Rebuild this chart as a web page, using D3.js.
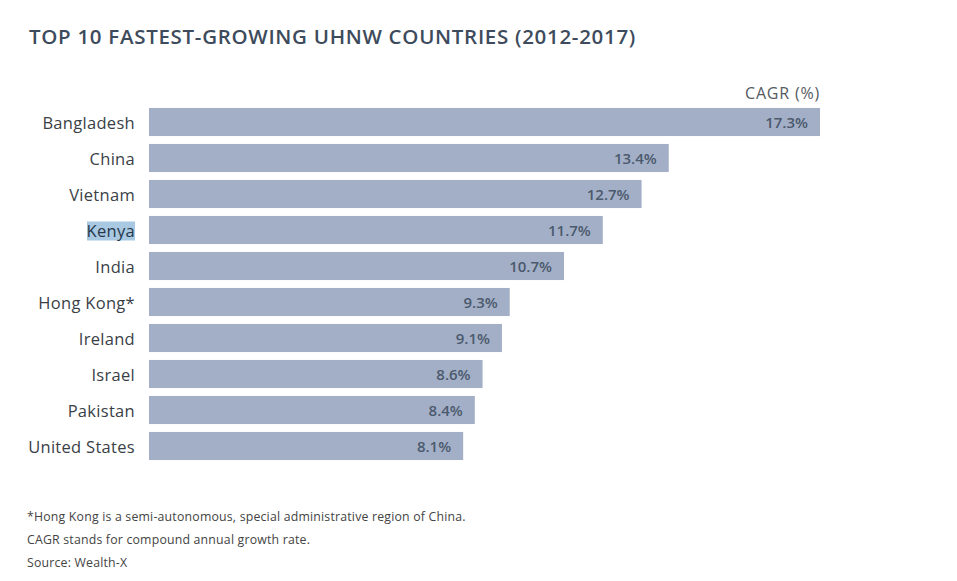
<!DOCTYPE html>
<html>
<head>
<meta charset="utf-8">
<script src="https://cdn.jsdelivr.net/npm/d3@7"></script>
<style>
  body { margin: 0; background: #fff; }
  svg text { font-family: "Open Sans", "Lato", sans-serif; }
</style>
</head>
<body>
<div id="chart"></div>
<script>
// Top 10 fastest-growing UHNW countries, CAGR 2012-2017

var countries = ["Bangladesh", "China", "Vietnam", "Kenya", "India",
                 "Hong Kong*", "Ireland", "Israel", "Pakistan", "United States"];
var cagr = [17.3, 13.4, 12.7, 11.7, 10.7, 9.3, 9.1, 8.6, 8.4, 8.1];
var highlighted = ["Kenya"];
var footnotes = [
    "*Hong Kong is a semi-autonomous, special administrative region of China.",
    "CAGR stands for compound annual growth rate.",
    "Source: Wealth-X"
];

var W = 957, H = 581;
var barColor = "#a3afc7";

var svg = d3.select("#chart").append("svg")
    .attr("width", W)
    .attr("height", H);

    // title
svg.append("text")
    .attr("x", 29).attr("y", 44)
    .attr("fill", "#3d4b5c")
    .attr("font-size", 20.5)
    .attr("font-weight", 600)
    .attr("letter-spacing", 0.7)
    .text("TOP 10 FASTEST-GROWING UHNW COUNTRIES (2012-2017)");

var x = d3.scaleLinear().domain([0, 17.3]).range([149, 820]);
var y = d3.scaleBand().domain(countries).range([104, 464]).paddingInner(0.22).paddingOuter(0.11);

var rows = countries.map(function(c, i) { return {name: c, value: cagr[i]}; });

    // bars
svg.selectAll("rect.bar").data(rows).enter().append("rect")
    .attr("class", "bar")
    .attr("x", x(0))
    .attr("y", function(d) { return y(d.name); })
    .attr("width", function(d) { return x(d.value) - x(0); })
    .attr("height", y.bandwidth())
    .attr("fill", barColor);

    // highlight behind selected label
var labelRight = 135;
svg.selectAll("rect.hl").data(rows.filter(function(d) { return highlighted.indexOf(d.name) >= 0; }))
    .enter().append("rect")
    .attr("class", "hl")
    .attr("x", 87)
    .attr("y", function(d) { return y(d.name) + y.bandwidth() / 2 - 8.5; })
    .attr("width", labelRight - 87)
    .attr("height", 19)
    .attr("fill", "#a9c8e2");

    // category labels
svg.selectAll("text.cat").data(rows).enter().append("text")
    .attr("class", "cat")
    .attr("x", labelRight)
    .attr("y", function(d) { return y(d.name) + y.bandwidth() / 2; })
    .attr("dy", "0.42em")
    .attr("text-anchor", "end")
    .attr("font-size", 16.5)
    .attr("letter-spacing", 0.3)
    .attr("fill", function(d) { return highlighted.indexOf(d.name) >= 0 ? "#26384a" : "#3a3f47"; })
    .text(function(d) { return d.name; });

    // value labels inside bar end
svg.selectAll("text.val").data(rows).enter().append("text")
    .attr("class", "val")
    .attr("x", function(d) { return x(d.value) - 12; })
    .attr("y", function(d) { return y(d.name) + y.bandwidth() / 2; })
    .attr("dy", "0.38em")
    .attr("text-anchor", "end")
    .attr("font-size", 15)
    .attr("font-weight", 600)
    .attr("fill", "#4b5a6d")
    .text(function(d) { return d.value.toFixed(1) + "%"; });

    // unit label
svg.append("text")
    .attr("x", x(17.3)).attr("y", 99)
    .attr("text-anchor", "end")
    .attr("font-size", 16)
    .attr("letter-spacing", 0.8)
    .attr("fill", "#555a61")
    .text("CAGR (%)");

    // footnotes
svg.selectAll("text.note").data(footnotes).enter().append("text")
    .attr("class", "note")
    .attr("x", 27)
    .attr("y", function(d, i) { return 521 + i * 23; })
    .attr("font-size", 12.3)
    .attr("letter-spacing", 0.2)
    .attr("fill", "#444")
    .text(function(d) { return d; });
</script>
</body>
</html>
